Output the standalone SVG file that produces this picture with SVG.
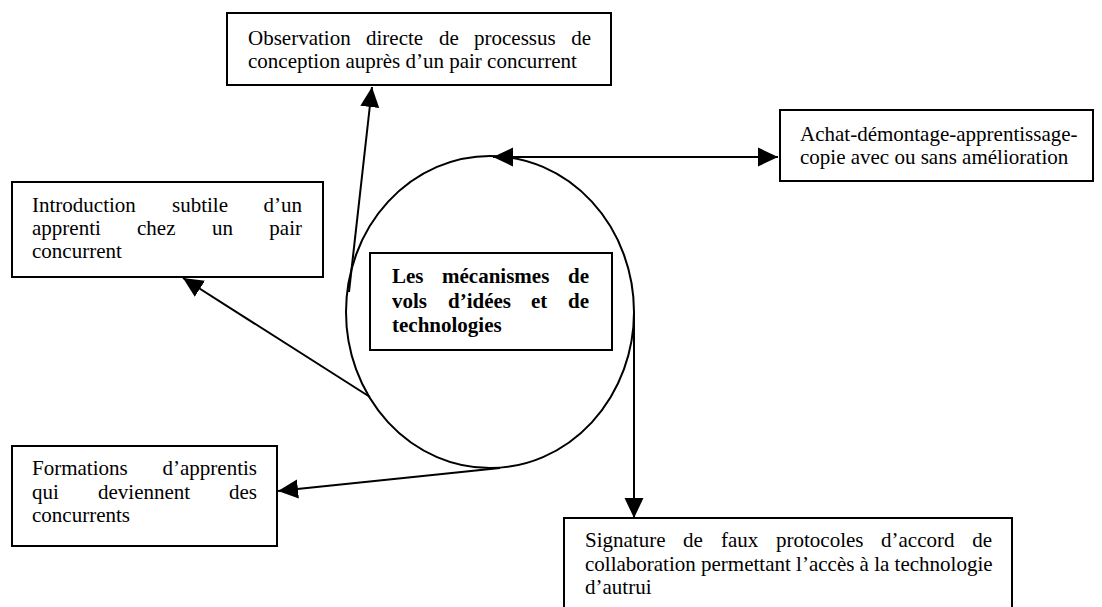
<svg xmlns="http://www.w3.org/2000/svg" width="1102" height="607" viewBox="0 0 1102 607">
<style>
.box{fill:#fff;stroke:#000;stroke-width:2}
.t{font-family:"Liberation Serif","Times New Roman",serif;font-size:21px;fill:#000}
.b{font-weight:bold}
.e{text-anchor:end}
.c{fill:none;stroke:#000;stroke-width:2}
</style>
<defs>
<marker id="ah" markerUnits="userSpaceOnUse" markerWidth="20" markerHeight="20" refX="20" refY="10" orient="auto-start-reverse">
<path d="M0,0.5 L20,10 L0,19.5 Z" fill="#000"/>
</marker>
</defs>
<rect x="0" y="0" width="1102" height="607" fill="#fff"/>
<g id="center">
<ellipse cx="490" cy="312" rx="144" ry="156" fill="none" stroke="#000" stroke-width="2"/>
<rect class="box" x="370" y="253" width="242" height="97"/>
<text class="t b"><tspan x="392" y="283">Les</tspan><tspan x="442" y="283">mécanismes</tspan><tspan x="589" y="283" class="e">de</tspan></text>
<text class="t b"><tspan x="392" y="308">vols</tspan><tspan x="448" y="308">d’idées</tspan><tspan x="531" y="308">et</tspan><tspan x="589" y="308" class="e">de</tspan></text>
<text class="t b" x="392" y="332">technologies</text>
</g>
<g id="connectors">
<line class="c" x1="349" y1="292" x2="372" y2="87" marker-end="url(#ah)"/>
<line class="c" x1="493" y1="157" x2="778" y2="157" marker-start="url(#ah)" marker-end="url(#ah)"/>
<line class="c" x1="370" y1="397" x2="183" y2="278" marker-end="url(#ah)"/>
<line class="c" x1="500" y1="468" x2="278" y2="491" marker-end="url(#ah)"/>
<line class="c" x1="634" y1="312" x2="634" y2="518" marker-end="url(#ah)"/>
</g>
<g id="observation">
<rect class="box" x="227" y="13" width="384" height="72"/>
<text class="t"><tspan x="248" y="45">Observation</tspan><tspan x="366" y="45">directe</tspan><tspan x="439" y="45">de</tspan><tspan x="474" y="45">processus</tspan><tspan x="591" y="45" class="e">de</tspan></text>
<text class="t" x="248" y="68">conception auprès d’un pair concurrent</text>
</g>
<g id="achat">
<rect class="box" x="780" y="110" width="313" height="71"/>
<text class="t" x="800" y="141">Achat-démontage-apprentissage-</text>
<text class="t" x="800" y="164">copie avec ou sans amélioration</text>
</g>
<g id="introduction">
<rect class="box" x="12" y="182" width="311" height="95"/>
<text class="t"><tspan x="32" y="212">Introduction</tspan><tspan x="172" y="212">subtile</tspan><tspan x="302" y="212" class="e">d’un</tspan></text>
<text class="t"><tspan x="32" y="235">apprenti</tspan><tspan x="137" y="235">chez</tspan><tspan x="212" y="235">un</tspan><tspan x="302" y="235" class="e">pair</tspan></text>
<text class="t" x="32" y="258">concurrent</text>
</g>
<g id="formations">
<rect class="box" x="12" y="446" width="265" height="100"/>
<text class="t"><tspan x="32" y="475">Formations</tspan><tspan x="257" y="475" class="e">d’apprentis</tspan></text>
<text class="t"><tspan x="32" y="499">qui</tspan><tspan x="98" y="499">deviennent</tspan><tspan x="257" y="499" class="e">des</tspan></text>
<text class="t" x="32" y="522">concurrents</text>
</g>
<g id="signature">
<rect class="box" x="564" y="518" width="448" height="100"/>
<text class="t"><tspan x="585" y="547">Signature</tspan><tspan x="683" y="547">de</tspan><tspan x="721" y="547">faux</tspan><tspan x="776" y="547">protocoles</tspan><tspan x="881" y="547">d’accord</tspan><tspan x="992" y="547" class="e">de</tspan></text>
<text class="t" x="585" y="571">collaboration permettant l’accès à la technologie</text>
<text class="t" x="585" y="594">d’autrui</text>
</g>
</svg>
